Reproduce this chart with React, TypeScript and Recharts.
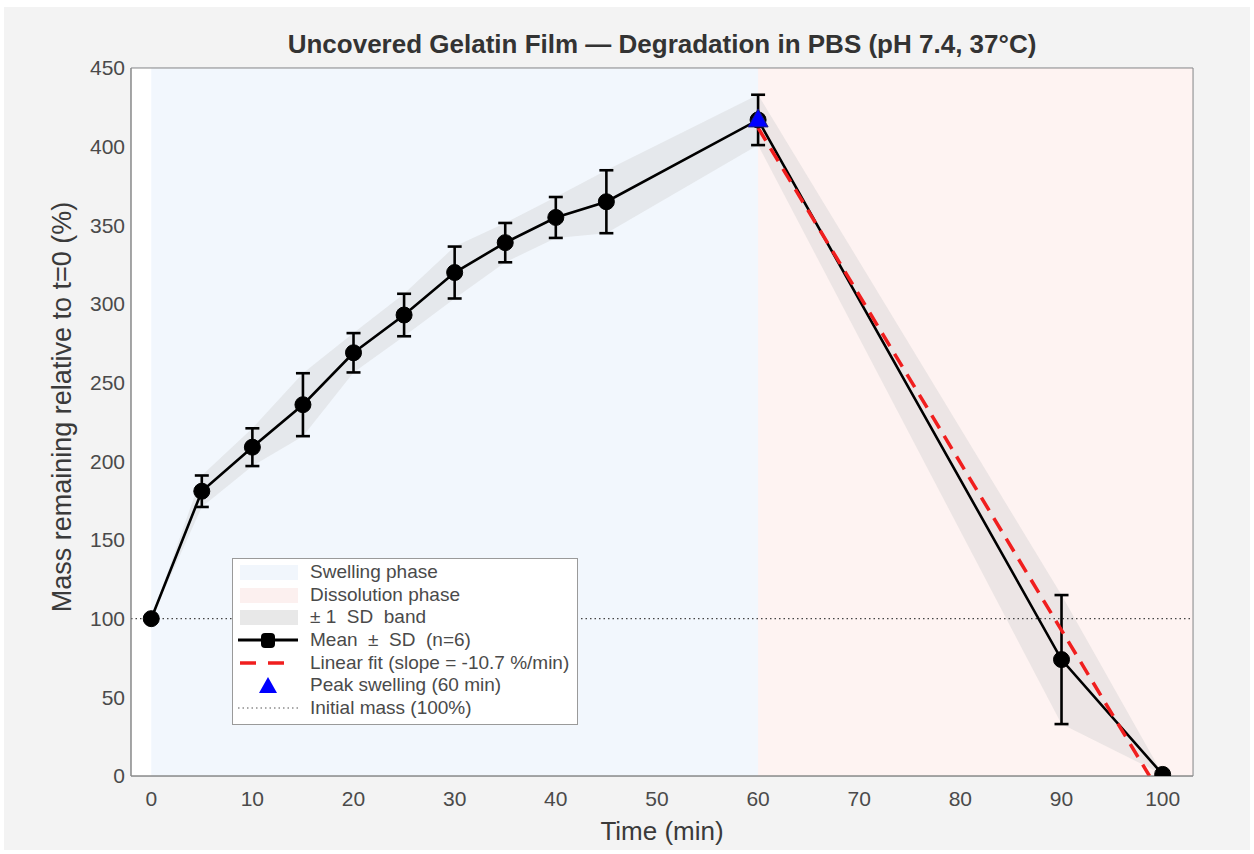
import React from 'react';
import {
  ComposedChart, Line, Area, Scatter, XAxis, YAxis, CartesianGrid,
  ReferenceArea, ReferenceLine, ErrorBar, Label,
} from 'recharts';

const times = [0, 5, 10, 15, 20, 25, 30, 35, 40, 45, 60, 90, 100];
const meanMass = [100, 181, 209, 236, 269, 293, 320, 339, 355, 365, 417, 74, 1];
const sdMass = [0, 10, 12, 20, 12.5, 13.5, 16.5, 12.5, 13, 20, 16, 41, 0];

const fitTimes = [60, 98.7];
const fitMass = [412, 0];

const peakTime = [60];
const peakMass = [417];

const xTicks = [0, 10, 20, 30, 40, 50, 60, 70, 80, 90, 100];
const yTicks = [0, 50, 100, 150, 200, 250, 300, 350, 400, 450];

const legendItems = [
  'Swelling phase',
  'Dissolution phase',
  '\u00b1 1  SD  band',
  'Mean  \u00b1  SD  (n=6)',
  'Linear fit (slope = -10.7 %/min)',
  'Peak swelling (60 min)',
  'Initial mass (100%)',
];

const data = times.map((t, i) => ({
  t,
  mean: meanMass[i],
  sd: sdMass[i],
  band: [meanMass[i] - sdMass[i], meanMass[i] + sdMass[i]],
}));
const fitData = fitTimes.map((t, i) => ({ t, fit: fitMass[i] }));
const peakData = peakTime.map((t, i) => ({ t, peak: peakMass[i] }));

const FONT = '"Liberation Sans", Arial, Helvetica, sans-serif';
const tickStyle = { fontSize: 21, fill: '#4a4a4a', fontFamily: FONT };
const labelStyle = { fontSize: 26, fill: '#3a3a3a', fontFamily: FONT };

const Triangle = (props: any) => {
  const { cx, cy } = props;
  return (
    <polygon
      points={`${cx},${cy - 11} ${cx - 10},${cy + 7} ${cx + 10},${cy + 7}`}
      fill="#0000ff"
      stroke="#1a1a7a"
      strokeWidth={1}
    />
  );
};

const YTitle = (props: any) => {
  const { viewBox } = props;
  const cx = viewBox.x + 1;
  const cy = viewBox.y + viewBox.height / 2 - 15;
  return (
    <text
      x={cx}
      y={cy}
      transform={`rotate(-90, ${cx}, ${cy})`}
      textAnchor="middle"
      dominantBaseline="central"
      style={{ ...labelStyle, fontSize: 27 }}
    >
      Mass remaining relative to t=0 (%)
    </text>
  );
};

const LegendSymbol = ({ idx }: { idx: number }) => {
  switch (idx) {
    case 0:
      return <rect x={2} y={4} width={58} height={15} fill="#f1f6fc" />;
    case 1:
      return <rect x={2} y={4} width={58} height={15} fill="#fcf0ef" />;
    case 2:
      return <rect x={2} y={4} width={58} height={15} fill="#e8e8e8" />;
    case 3:
      return (
        <g>
          <line x1={0} y1={11} x2={60} y2={11} stroke="#000" strokeWidth={3} />
          <rect x={23} y={4} width={14} height={15} rx={4} fill="#000" />
        </g>
      );
    case 4:
      return <line x1={2} y1={11} x2={58} y2={11} stroke="#f01e1e" strokeWidth={3.5} strokeDasharray="16 12" />;
    case 5:
      return <polygon points="30,3 21,19 39,19" fill="#0000ff" />;
    default:
      return <line x1={0} y1={11} x2={60} y2={11} stroke="#555" strokeWidth={1.2} strokeDasharray="1.5 3" />;
  }
};

export default function App() {
  return (
    <div style={{ position: 'absolute', left: 0, top: 0, width: 1254, height: 854, background: '#ffffff', fontFamily: FONT }}>
      <div style={{ position: 'absolute', left: 4, top: 7, width: 1246, height: 843, background: '#f3f3f3' }} />
      <div
        style={{
          position: 'absolute', left: 131, width: 1062, top: 29, textAlign: 'center',
          fontSize: 26, fontWeight: 'bold', color: '#333333', whiteSpace: 'nowrap',
        }}
      >
        Uncovered Gelatin Film — Degradation in PBS (pH 7.4, 37°C)
      </div>
      <div style={{ position: 'absolute', left: 0, top: 0 }}>
        <ComposedChart width={1254} height={854} data={data} margin={{ top: 68, right: 61, bottom: 12, left: 61 }}>
          <ReferenceArea x1={-2} x2={103} y1={0} y2={450} fill="#ffffff" fillOpacity={1} stroke="none" />
          <ReferenceArea x1={0} x2={60} y1={0} y2={450} fill="#4a90e2" fillOpacity={0.075} stroke="none" />
          <ReferenceArea x1={60} x2={103} y1={0} y2={450} fill="#ef6a5a" fillOpacity={0.08} stroke="none" />
          <CartesianGrid stroke="#c9d0d8" strokeOpacity={0.6} />
          <XAxis
            dataKey="t"
            type="number"
            domain={[-2, 103]}
            ticks={xTicks}
            allowDataOverflow
            height={66}
            tick={tickStyle}
            tickSize={0}
            tickMargin={15}
            axisLine={{ stroke: '#8a8a8a' }}
          >
            <Label value="Time (min)" position="insideBottom" offset={2} style={labelStyle} />
          </XAxis>
          <YAxis
            type="number"
            domain={[0, 450]}
            ticks={yTicks}
            allowDataOverflow
            width={70}
            tick={tickStyle}
            tickSize={0}
            tickMargin={6}
            axisLine={{ stroke: '#8a8a8a' }}
          >
            <Label content={<YTitle />} />
          </YAxis>
          <Area
            dataKey="band"
            type="linear"
            stroke="none"
            fill="#cfcfcf"
            fillOpacity={0.38}
            isAnimationActive={false}
            activeDot={false}
          />
          <ReferenceLine y={100} stroke="#444" strokeWidth={1.2} strokeDasharray="1.5 3" />
          <Line
            dataKey="mean"
            type="linear"
            stroke="#000"
            strokeWidth={2.6}
            dot={{ r: 8, fill: '#000', stroke: '#000', strokeWidth: 1 }}
            activeDot={false}
            isAnimationActive={false}
          >
            <ErrorBar dataKey="sd" direction="y" width={7} stroke="#000" strokeWidth={2.6} />
          </Line>
          <Line
            data={fitData}
            dataKey="fit"
            type="linear"
            stroke="#f01e1e"
            strokeWidth={3.5}
            strokeDasharray="15 9"
            dot={false}
            activeDot={false}
            isAnimationActive={false}
          />
          <Scatter data={peakData} dataKey="peak" shape={<Triangle />} isAnimationActive={false} />
          <ReferenceArea x1={-2} x2={103} y1={0} y2={450} fill="none" stroke="#8a8a8a" strokeWidth={1} ifOverflow="visible" />
        </ComposedChart>
      </div>
      <div
        style={{
          position: 'absolute', left: 232, top: 558, width: 346, height: 167,
          background: '#ffffff', border: '1px solid #9a9a9a', boxSizing: 'border-box',
          paddingTop: 2,
        }}
      >
        {legendItems.map((name, i) => (
          <div key={name} style={{ display: 'flex', alignItems: 'center', height: 22.6 }}>
            <svg width={64} height={22} style={{ marginLeft: 5 }}>
              <LegendSymbol idx={i} />
            </svg>
            <span style={{ marginLeft: 8, fontSize: 19, lineHeight: '20px', color: '#4a4a4a', whiteSpace: 'pre' }}>{name}</span>
          </div>
        ))}
      </div>
    </div>
  );
}
